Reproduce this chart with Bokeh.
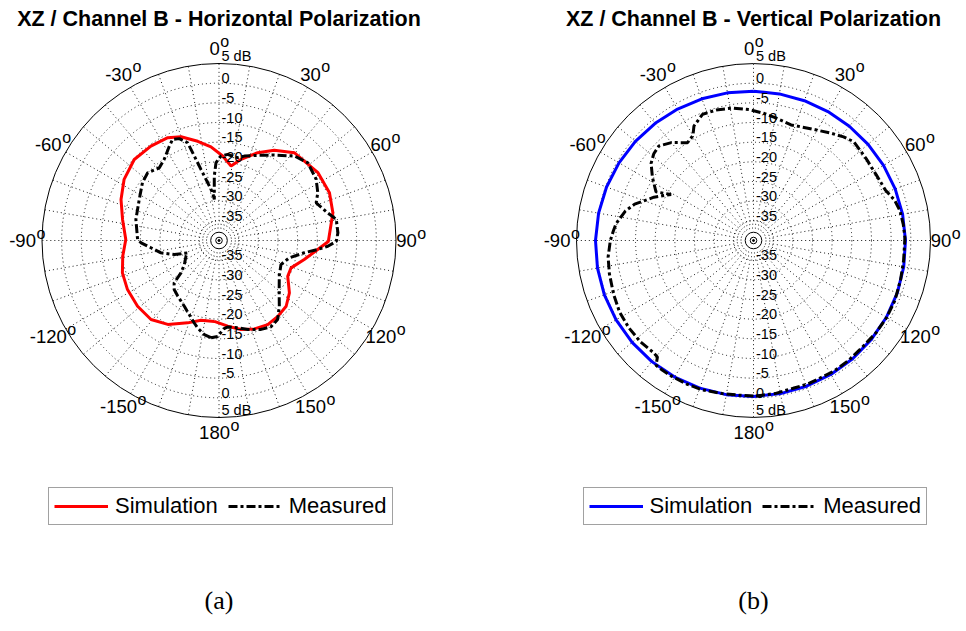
import numpy as np
from bokeh.plotting import figure
from bokeh.models import Range1d, Legend, LegendItem
from bokeh.core.properties import value
from bokeh.embed import file_html
from bokeh.resources import INLINE

# ---------------- data ----------------
ring_db = [5, 0, -5, -10, -15, -20, -25, -30, -35]
ring_labels = ["5 dB", "0", "-5", "-10", "-15", "-20", "-25", "-30", "-35"]
angle_ticks = [0, 30, 60, 90, 120, 150, 180, -150, -120, -90, -60, -30]
angle_tick_labels = ["0", "30", "60", "90", "120", "150", "180", "-150", "-120", "-90", "-60", "-30"]
titles = ["XZ / Channel B - Horizontal Polarization", "XZ / Channel B - Vertical Polarization"]
captions = ["(a)", "(b)"]
series_labels = ["Simulation", "Measured"]

sim_a_ang = [-176.7, -167.3, -159.2, -148.6, -139.3, -128.9, -118.2, -108.5, -99.3, -89.4,
             -77.7, -67.3, -57.2, -46.3, -35.8, -26.5, -20.1, -12.1, -4.9, 2.5, 9.2, 15.2,
             23.8, 31.5, 40.6, 55.6, 66.6, 76.3, 90.5, 95.2, 102.6, 110.8, 117.5, 126.6,
             134.4, 142.2, 149.9, 158.2, 166.1, 174.2]
sim_a_db = [-19.4, -19.2, -17.6, -15.0, -13.5, -13.4, -13.6, -14.1, -15.2, -16.3,
            -14.9, -13.0, -11.3, -10.2, -10.4, -10.8, -11.9, -14.2, -16.1, -18.5, -20.8, -18.6,
            -15.6, -13.1, -10.6, -9.5, -9.4, -10.2, -12.2, -14.8, -17.8, -20.4, -20.3, -17.7,
            -16.1, -15.6, -15.3, -15.8, -16.7, -18.1]

meas_a_ang = [-175.3, -171.1, -166.3, -163.3, -158.1, -152.2, -143.4, -137.6, -133.4, -130.4,
              -124.7, -115.4, -111.5, -107.4, -102.0, -96.1, -91.7, -89.3, -75.8, -62.8,
              -52.9, -46.5, -39.4, -34.0, -27.8, -24.6, -21.3, -17.8, -16.3, -14.2, -11.1,
              -7.5, -6.5, -4.2, -2.2, 1.4, 5.8, 9.2, 12.7, 16.7, 24.5, 33.0, 41.8, 48.8,
              57.8, 64.2, 68.8, 75.7, 79.8, 86.3, 90.5, 93.0, 95.2, 98.2, 103.8, 111.2,
              120.6, 131.1, 137.5, 143.4, 148.9, 154.7, 162.1, 167.9, 174.2, 177.0, 180.8]
meas_a_db = [-15.2, -15.8, -17.1, -18.1, -19.7, -21.1, -22.4, -23.1, -24.3, -27.3,
             -29.3, -30.7, -31.4, -28.1, -24.9, -22.6, -20.2, -19.3, -18.2, -17.2,
             -15.6, -15.0, -16.1, -15.1, -12.9, -11.7, -12.2, -13.9, -17.6, -21.4, -25.0,
             -27.8, -29.5, -23.6, -20.2, -18.5, -18.0, -18.3, -18.4, -17.6, -16.2, -14.1, -11.2, -10.0,
             -10.8, -12.1, -13.5, -11.5, -9.7, -9.7, -10.2, -12.3, -14.8, -18.1, -21.6, -23.1,
             -22.2, -19.7, -17.3, -15.0, -14.4, -15.0, -16.2, -17.3, -17.9, -17.5, -15.6]

sim_b_ang = [0, 10, 20, 30, 40, 50, 60, 70, 80, 90, 100, 110, 120, 130, 140, 150, 160, 170,
             180, 190, 200, 210, 220, 230, 240, 250, 260, 270, 280, 290, 300, 310, 320, 330, 340, 350]
sim_b_db = [-2.04, -2.15, -2.18, -2.16, -2.09, -1.97, -1.83, -1.67, -1.51, -1.36, -1.22, -1.09,
            -0.98, -0.88, -0.78, -0.68, -0.58, -0.47, -0.34, -0.20, -0.06, 0.08, 0.20, 0.29,
            0.34, 0.35, 0.28, 0.17, -0.01, -0.24, -0.51, -0.80, -1.11, -1.40, -1.66, -1.88]

meas_b_ang = [-180.0, -174.6, -168.5, -161.0, -155.0, -149.0, -145.0, -142.0, -140.5, -138.0,
              -132.0, -125.0, -118.0, -111.0, -103.0, -96.5, -90.0, -86.0, -83.0, -77.0,
              -73.0, -66.5, -60.8, -63.5, -58.0, -53.0, -49.0, -45.0, -40.0, -34.0, -30.0,
              -27.5, -22.0, -16.0, -9.0, -2.0, 5.0, 10.0, 18.0, 27.0, 36.0, 41.0, 45.5,
              54.0, 62.0, 69.0, 74.0, 78.5, 84.0, 89.0, 97.6, 105.0, 113.0, 120.0, 127.0,
              134.5, 141.5, 148.0, 153.0, 159.0, 165.0, 172.0, 179.3]
meas_b_db = [-0.45, -0.5, -0.3, 0.15, 0.25, 0.3, 0.3, 0.25, -1.6, -1.8,
             -1.4, -1.3, -1.4, -1.9, -2.4, -2.8, -3.6, -4.3, -4.8, -6.6,
             -8.4, -12.4, -16.0, -12.3, -9.7, -7.4, -6.4, -6.0, -7.5, -10.0, -9.2,
             -7.2, -5.4, -5.5, -5.9, -6.7, -7.6, -8.3, -9.1, -8.1, -6.3, -5.1, -4.2,
             -4.6, -4.6, -4.1, -2.7, -2.0, -1.7, -1.5, -1.5, -1.3, -0.95, -0.9, -1.0,
             -1.25, -1.1, -1.0, -1.15, -1.0, -1.1, -0.7, -0.45]

# ---------------- layout / style ----------------
W, H = 966, 631
CENTERS = [(218.5, 240.0), (753.0, 240.0)]
DB_CENTER = -40.0
R_OUT = 177.0
K = R_OUT / (ring_db[0] - DB_CENTER)   # px per dB
R_LAB = 192.0
FONT = "Liberation Sans"
SIM_COLORS = ["#ff0000", "#0000ff"]
DASH = "9 3 3 3"


def rad(db):
    return K * (np.asarray(db, dtype=float) - DB_CENTER)


def polar(cx, cy, ang, db, close=False):
    a = np.radians(np.asarray(ang, dtype=float))
    r = rad(db)
    x = cx + r * np.sin(a)
    y = cy - r * np.cos(a)
    if close:
        x = np.append(x, x[0])
        y = np.append(y, y[0])
    return x, y


CHAR_W = {"-": 0.333, " ": 0.278}
for d in "0123456789":
    CHAR_W[d] = 0.556


def text_w(s, size):
    return size * sum(CHAR_W.get(c, 0.556) for c in s)


p = figure(width=W, height=H, x_range=Range1d(0, W), y_range=Range1d(H, 0),
           output_backend="svg", toolbar_location=None, min_border=0,
           x_axis_type=None, y_axis_type=None)
p.grid.visible = False
p.outline_line_color = None
p.background_fill_color = "white"

sims = [(sim_a_ang, sim_a_db), (sim_b_ang, sim_b_db)]
meas = [(meas_a_ang, meas_a_db), (meas_b_ang, meas_b_db)]

for i, (cx, cy) in enumerate(CENTERS):
    # spokes every 10 degrees
    sp = np.arange(0, 360, 10)
    r_in = rad(ring_db[-1])
    t = np.radians(sp)
    p.segment(x0=cx + r_in * np.sin(t), y0=cy - r_in * np.cos(t),
              x1=cx + R_OUT * np.sin(t), y1=cy - R_OUT * np.cos(t),
              line_color="black", line_width=1, line_dash="1 3", line_alpha=0.9)
    # rings
    p.circle(x=[cx] * (len(ring_db) - 1), y=[cy] * (len(ring_db) - 1), radius=rad(ring_db[1:]),
             fill_color=None, line_color="black", line_width=1, line_dash="1 3", line_alpha=0.9)
    p.circle(x=[cx], y=[cy], radius=[R_OUT], fill_color=None, line_color="black", line_width=1)
    # center decoration rings
    p.circle(x=[cx, cx], y=[cy, cy], radius=[12.5, 16.3], fill_color=None,
             line_color="black", line_width=1, line_dash="1 2")
    p.circle(x=[cx, cx], y=[cy, cy], radius=[3.3, 8.3], fill_color=None,
             line_color="black", line_width=1)
    p.circle(x=[cx], y=[cy], radius=[1.0], fill_color="black", line_color="black")

    # curves
    sx, sy = polar(cx, cy, *sims[i], close=True)
    r_sim = p.line(sx, sy, line_color=SIM_COLORS[i], line_width=3)
    mx, my = polar(cx, cy, *meas[i], close=True)
    r_meas = p.line(mx, my, line_color="black", line_width=3, line_dash=DASH)

    # ring labels (upper and lower)
    rr = rad(ring_db)
    p.text(x=[cx + 2.5] * len(rr), y=list(cy - rr), text=ring_labels,
           text_font=value(FONT), text_font_size="14.5px", text_color="black",
           text_align="left", text_baseline="bottom")
    p.text(x=[cx + 2.5] * len(rr), y=list(cy + rr), text=ring_labels,
           text_font=value(FONT), text_font_size="14.5px", text_color="black",
           text_align="left", text_baseline="bottom")

    # angle labels with superscript "o"
    f_a, f_o = 18.5, 16.0
    dxs, dys, oxs, oys = [], [], [], []
    for a, s in zip(angle_ticks, angle_tick_labels):
        ax = cx + R_LAB * np.sin(np.radians(a))
        ay = cy - R_LAB * np.cos(np.radians(a))
        dw = text_w(s, f_a)
        ow = 0.556 * f_o
        left = ax - (dw + ow) / 2
        dxs.append(left + dw / 2)
        dys.append(ay)
        oxs.append(left + dw + 0.5)
        oys.append(ay - 7.5)
    p.text(x=dxs, y=dys, text=angle_tick_labels, text_font=value(FONT),
           text_font_size=f"{f_a}px", text_align="center", text_baseline="middle", text_color="black")
    p.text(x=oxs, y=oys, text=["o"] * len(oxs), text_font=value(FONT),
           text_font_size=f"{f_o}px", text_align="left", text_baseline="alphabetic", text_color="black")

    # title and caption
    p.text(x=[cx], y=[18], text=[titles[i]], text_font=value(FONT), text_font_size="21.5px",
           text_font_style="bold", text_align="center", text_baseline="middle", text_color="black")
    p.text(x=[cx], y=[600], text=[captions[i]], text_font=value("Liberation Serif"),
           text_font_size="26px", text_align="center", text_baseline="middle", text_color="black")

    # legend
    lw = 341
    leg = Legend(items=[LegendItem(label=series_labels[0], renderers=[r_sim]),
                        LegendItem(label=series_labels[1], renderers=[r_meas])],
                 orientation="horizontal", location=(cx - lw / 2, H - 525),
                 padding=5, spacing=10, label_standoff=7, glyph_width=54, glyph_height=20,
                 margin=0, border_line_color="#444444", border_line_width=1,
                 label_text_font=FONT, label_text_font_size="22px", label_text_color="black",
                 background_fill_color="white", background_fill_alpha=1.0)
    p.add_layout(leg)

open("out.html", "w").write(file_html(p, INLINE))
